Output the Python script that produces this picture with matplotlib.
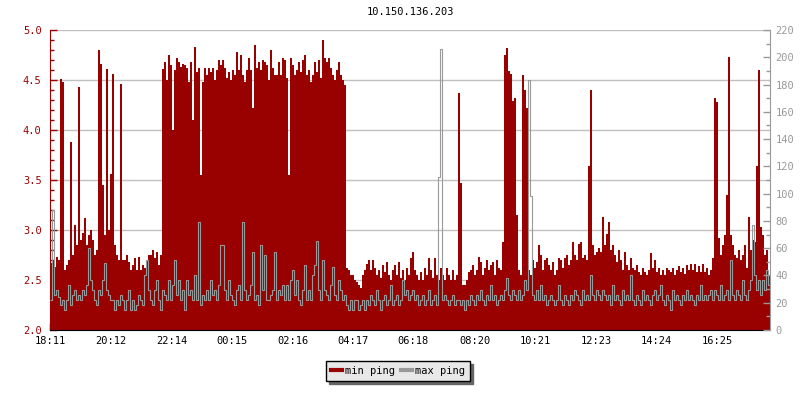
import numpy as np
import matplotlib
matplotlib.use('Agg')
import matplotlib.pyplot as plt
from matplotlib.lines import Line2D
from matplotlib.ticker import MultipleLocator

plt.rcParams['font.family'] = ['DejaVu Sans Mono']
plt.rcParams['font.size'] = 7.5

title = '10.150.136.203'
tick_labels = ['18:11', '20:12', '22:14', '00:15', '02:16', '04:17',
               '06:18', '08:20', '10:21', '12:23', '14:24', '16:25']
minutes_per_sample = 4

# min ping, left axis
min_ping = [
    2.67, 2.70, 2.63, 2.73, 2.70, 4.51, 4.48, 2.60, 2.65, 2.70,
    3.88, 2.75, 3.05, 2.85, 4.43, 2.90, 2.97, 3.12, 2.85, 2.95,
    3.00, 2.90, 2.75, 2.80, 4.80, 4.66, 3.45, 2.95, 4.61, 3.00,
    3.56, 4.56, 2.85, 2.75, 2.70, 4.46, 2.70, 2.70, 2.75, 2.68,
    2.60, 2.65, 2.72, 2.60, 2.73, 2.60, 2.65, 2.62, 2.70, 2.75,
    2.75, 2.80, 2.72, 2.78, 2.65, 2.75, 4.61, 4.68, 4.50, 4.75,
    4.65, 4.00, 4.60, 4.72, 4.68, 4.63, 4.66, 4.65, 4.62, 4.48,
    4.68, 4.10, 4.83, 4.58, 4.62, 3.55, 4.48, 4.62, 4.55, 4.62,
    4.58, 4.62, 4.50, 4.60, 4.70, 4.65, 4.70, 4.62, 4.52, 4.58,
    4.50, 4.60, 4.55, 4.78, 4.60, 4.75, 4.55, 4.48, 4.60, 4.72,
    4.60, 4.22, 4.85, 4.62, 4.68, 4.60, 4.70, 4.68, 4.65, 4.50,
    4.80, 4.62, 4.55, 4.55, 4.68, 4.55, 4.72, 4.70, 4.52, 3.55,
    4.72, 4.65, 4.55, 4.60, 4.68, 4.58, 4.70, 4.75, 4.55, 4.60,
    4.48, 4.55, 4.68, 4.58, 4.70, 4.52, 4.90, 4.72, 4.68, 4.72,
    4.62, 4.55, 4.50, 4.60, 4.68, 4.55, 4.50, 4.45, 2.62, 2.60,
    2.55, 2.55, 2.50, 2.48, 2.45, 2.42, 2.55, 2.60, 2.66, 2.70,
    2.60, 2.70, 2.62, 2.55, 2.60, 2.52, 2.65, 2.58, 2.68, 2.55,
    2.50, 2.60, 2.65, 2.55, 2.68, 2.52, 2.60, 2.50, 2.62, 2.55,
    2.72, 2.78, 2.60, 2.55, 2.50, 2.58, 2.50, 2.62, 2.55, 2.72,
    2.60, 2.52, 2.72, 2.55, 2.50, 2.62, 2.55, 2.50, 2.62, 2.55,
    2.50, 2.60, 2.50, 2.55, 4.37, 3.47, 2.45, 2.45, 2.50, 2.58,
    2.60, 2.65, 2.55, 2.60, 2.73, 2.68, 2.55, 2.62, 2.70, 2.60,
    2.65, 2.68, 2.55, 2.70, 2.62, 2.60, 2.88, 4.75, 4.82, 4.59,
    4.56, 4.29, 4.32, 3.15, 2.60, 2.55, 4.55, 4.40, 4.22, 2.60,
    2.55, 2.70, 2.62, 2.68, 2.85, 2.75, 2.60, 2.70, 2.72, 2.65,
    2.60, 2.68, 2.55, 2.60, 2.72, 2.70, 2.62, 2.72, 2.75, 2.65,
    2.70, 2.88, 2.75, 2.70, 2.86, 2.88, 2.72, 2.75, 2.70, 3.64,
    4.40, 2.85, 2.75, 2.78, 2.82, 2.78, 3.13, 2.85, 2.96, 3.08,
    2.80, 2.85, 2.75, 2.68, 2.80, 2.70, 2.60, 2.78, 2.65, 2.60,
    2.72, 2.62, 2.60, 2.65, 2.58, 2.55, 2.62, 2.58, 2.55, 2.60,
    2.77, 2.62, 2.70, 2.58, 2.62, 2.55, 2.60, 2.55, 2.62, 2.60,
    2.58, 2.62, 2.55, 2.60, 2.64, 2.58, 2.62, 2.56, 2.65, 2.60,
    2.66, 2.60, 2.66, 2.58, 2.64, 2.58, 2.66, 2.58, 2.62, 2.55,
    2.60, 2.72, 4.32, 4.28, 2.92, 2.75, 2.85, 2.95, 3.35, 4.73,
    2.95, 2.85, 2.75, 2.72, 2.80, 2.70, 2.75, 2.85, 2.62, 3.13,
    2.80, 2.90, 2.88, 3.64, 4.60, 3.03, 2.95, 2.75, 2.80, 2.55,
]

# max ping, right axis
max_ping = [
    22, 88, 26, 29, 24, 18, 22, 15, 22, 33,
    18, 26, 29, 22, 26, 22, 29, 26, 33, 60,
    37, 29, 22, 18, 29, 26, 37, 49, 29, 26,
    22, 22, 15, 22, 18, 26, 22, 15, 22, 29,
    15, 22, 15, 18, 26, 22, 18, 40, 51, 29,
    22, 18, 29, 37, 22, 15, 29, 26, 22, 37,
    22, 33, 51, 26, 37, 22, 29, 15, 37, 26,
    29, 22, 40, 22, 79, 18, 26, 22, 29, 22,
    37, 26, 29, 22, 33, 62, 62, 29, 22, 37,
    26, 22, 18, 29, 33, 22, 79, 29, 22, 26,
    33, 57, 22, 26, 18, 62, 29, 55, 22, 22,
    26, 29, 57, 22, 29, 26, 33, 22, 33, 22,
    37, 44, 26, 37, 22, 18, 29, 48, 22, 29,
    22, 40, 48, 65, 29, 22, 51, 29, 26, 22,
    33, 46, 26, 22, 37, 29, 22, 26, 18, 15,
    22, 15, 22, 22, 15, 18, 22, 15, 22, 18,
    26, 22, 18, 29, 22, 15, 22, 26, 18, 22,
    33, 18, 22, 26, 18, 22, 37, 26, 29, 22,
    26, 29, 22, 26, 18, 22, 26, 18, 22, 29,
    18, 22, 26, 18, 112, 206, 22, 26, 22, 18,
    22, 26, 18, 22, 22, 18, 22, 15, 22, 18,
    26, 22, 18, 26, 22, 29, 22, 18, 26, 22,
    33, 22, 26, 18, 22, 26, 22, 29, 38, 26,
    22, 29, 26, 22, 29, 22, 26, 37, 29, 183,
    98, 26, 22, 29, 22, 33, 22, 26, 18, 22,
    26, 22, 18, 22, 33, 22, 18, 26, 22, 18,
    26, 22, 29, 26, 22, 18, 29, 22, 26, 22,
    40, 26, 22, 29, 26, 22, 29, 26, 22, 26,
    18, 33, 22, 26, 22, 18, 29, 22, 26, 22,
    40, 22, 18, 26, 22, 18, 29, 22, 26, 22,
    18, 26, 29, 22, 26, 33, 22, 18, 26, 22,
    15, 29, 22, 26, 22, 18, 26, 22, 29, 22,
    26, 22, 18, 26, 22, 33, 22, 26, 22, 26,
    29, 22, 29, 26, 22, 33, 22, 26, 29, 22,
    51, 26, 22, 29, 26, 22, 37, 26, 22, 29,
    37, 77, 40, 29, 37, 26, 37, 29, 44, 33,
]

red = '#990000'
grey = '#999999'

edges = np.arange(len(min_ping) + 1) * minutes_per_sample
start = 18 * 60 + 11
tick_pos = [((int(s[:2]) * 60 + int(s[3:])) - start) % 1440 for s in tick_labels]

fig = plt.figure(figsize=(8, 4), dpi=100)
ax = fig.add_axes([50 / 800, 70 / 400, 720 / 800, 300 / 400])
ax2 = ax.twinx()

ax.stairs(min_ping, edges, baseline=2.0, fill=True, color=red, lw=0, zorder=2)
ax2.stairs(max_ping, edges, color=grey, lw=0.8, baseline=None)

ax.set_xlim(0, 1440)
ax.set_ylim(2.0, 5.0)
ax2.set_ylim(0, 220)

ax.set_xticks(tick_pos)
ax.set_xticklabels(tick_labels)
ax.yaxis.set_major_locator(MultipleLocator(0.5))
ax.yaxis.set_minor_locator(MultipleLocator(0.1))
ax.yaxis.set_major_formatter(plt.FormatStrFormatter('%.1f'))
ax2.yaxis.set_major_locator(MultipleLocator(20))
ax2.yaxis.set_minor_locator(MultipleLocator(10))

ax.grid(True, axis='y', color='#c0c0c0', lw=1.0, zorder=0)
ax.set_axisbelow(True)

ax.tick_params(axis='x', direction='in', length=5, width=1, colors='black', pad=4)
ax.tick_params(axis='y', which='major', direction='in', length=5, width=1, colors=red, pad=6)
ax.tick_params(axis='y', which='minor', direction='in', length=3, width=1, colors=red)
ax2.tick_params(axis='y', which='major', direction='in', length=5, width=1, colors=grey, pad=4)
ax2.tick_params(axis='y', which='minor', direction='in', length=3, width=1, colors=grey)

for a in (ax, ax2):
    a.spines['top'].set_visible(False)
ax.spines['left'].set_color(red)
ax.spines['right'].set_visible(False)
ax2.spines['left'].set_visible(False)
ax2.spines['right'].set_color(grey)
ax2.spines['bottom'].set_visible(False)
ax.spines['bottom'].set_color('black')

fig.text(410 / 800, 1 - 12 / 400, title, ha='center', va='center', fontsize=7.5)

handles = [Line2D([], [], color=red, lw=3), Line2D([], [], color=grey, lw=3)]
leg = fig.legend(handles, ['min ping', 'max ping'], loc='center',
                 bbox_to_anchor=(398 / 800, 1 - 371 / 400), ncol=2,
                 frameon=True, fancybox=False, handlelength=1.0,
                 handletextpad=0.3, columnspacing=0.6, borderpad=0.5,
                 shadow={'color': '#666666', 'alpha': 1}, fontsize=7.5)
leg.get_frame().set_facecolor('#e8e8e8')
leg.get_frame().set_edgecolor('black')
leg.get_frame().set_alpha(1)

plt.savefig('out.png', dpi=100)
